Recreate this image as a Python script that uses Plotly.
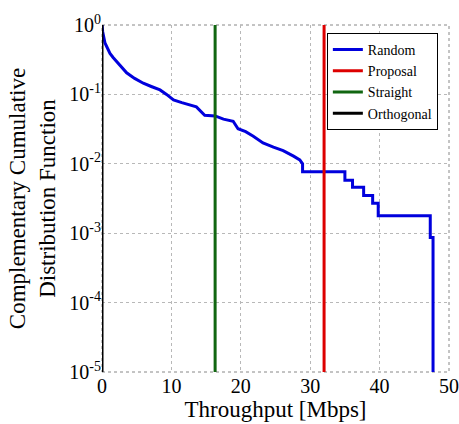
import plotly.graph_objects as go

# Random scheme CCDF (breakpoints)
random_x = [0, 0.1, 0.43, 0.8, 1.15, 1.6, 2.1, 2.8, 3.55, 4.7, 5.95, 7.1, 8.36, 9.3, 10.3, 11.5,
            12.7, 13.6, 14.8, 16.3, 17.5, 18.9, 19.6, 20.7, 21.8, 23.2, 24.7, 26.1, 27.6, 28.5,
            28.9, 28.9, 35.0, 35.0, 36.1, 36.1, 37.7, 37.7, 39.0, 39.0, 39.8, 39.8, 47.3, 47.3,
            47.7, 47.7]
random_y = [1.0, 0.80, 0.55, 0.45, 0.39, 0.34, 0.30, 0.245, 0.205, 0.17, 0.145, 0.13, 0.116,
            0.10, 0.083, 0.076, 0.070, 0.066, 0.050, 0.049, 0.044, 0.041, 0.032, 0.029, 0.025,
            0.020, 0.0174, 0.0155, 0.0129, 0.0114, 0.0100, 0.0077, 0.0077, 0.0058, 0.0058,
            0.0046, 0.0046, 0.0035, 0.0035, 0.0027, 0.0027, 0.00178, 0.00178, 0.00087, 0.00087,
            1e-6]

# Deterministic schemes: constant throughput (CCDF drops from 1 to 0)
proposal_x = 32.0
straight_x = 16.3
orthogonal_x = 0.0

y_tickvals = [1, 0.1, 0.01, 0.001, 0.0001, 0.00001]
y_ticktext = ["10<sup>0</sup>", "10<sup>-1</sup>", "10<sup>-2</sup>", "10<sup>-3</sup>",
              "10<sup>-4</sup>", "10<sup>-5</sup>"]
x_tickvals = [0, 10, 20, 30, 40, 50]

font = "'Liberation Serif', 'Times New Roman', Times, 'DejaVu Serif', serif"

fig = go.Figure()
fig.add_trace(go.Scatter(x=random_x, y=random_y, mode="lines", name="Random",
                         line=dict(color="#0000dd", width=3)))
fig.add_trace(go.Scatter(x=[proposal_x, proposal_x], y=[1, 1e-6], mode="lines", name="Proposal",
                         line=dict(color="#dd0000", width=3)))
fig.add_trace(go.Scatter(x=[straight_x, straight_x], y=[1, 1e-6], mode="lines", name="Straight",
                         line=dict(color="#116611", width=3)))
fig.add_trace(go.Scatter(x=[orthogonal_x, orthogonal_x], y=[1, 1e-6], mode="lines", name="Orthogonal",
                         line=dict(color="#000000", width=3)))

fig.update_layout(
    width=459, height=424,
    margin=dict(l=102, r=10, t=25, b=52, autoexpand=False),
    paper_bgcolor="white", plot_bgcolor="white",
    font=dict(family=font, size=20, color="black"),
    showlegend=True,
    legend=dict(x=0.648, y=0.977, xanchor="left", yanchor="top",
                bordercolor="black", borderwidth=1, bgcolor="white",
                font=dict(family=font, size=14), tracegroupgap=0),
    shapes=[dict(type="rect", xref="paper", yref="paper", x0=0, y0=0, x1=1, y1=1,
                 line=dict(color="#888888", width=1, dash="dot"), layer="below")],
)
fig.update_xaxes(range=[0, 50], tickvals=x_tickvals, showgrid=True, gridcolor="#b8b8b8",
                 griddash="dot", gridwidth=1, zeroline=False, ticks="", showline=False,
                 automargin=False,
                 title=dict(text="Throughput [Mbps]", font=dict(family=font, size=23), standoff=4),
                 tickfont=dict(family=font, size=20))
fig.update_yaxes(type="log", range=[-5, 0], tickvals=y_tickvals, ticktext=y_ticktext,
                 showgrid=True, gridcolor="#b8b8b8", griddash="dot", gridwidth=1,
                 zeroline=False, ticks="", showline=False, automargin=False,
                 title=dict(text="Complementary Cumulative<br>Distribution Function",
                            font=dict(family=font, size=23), standoff=7),
                 tickfont=dict(family=font, size=20))

fig.write_html("out.html")
